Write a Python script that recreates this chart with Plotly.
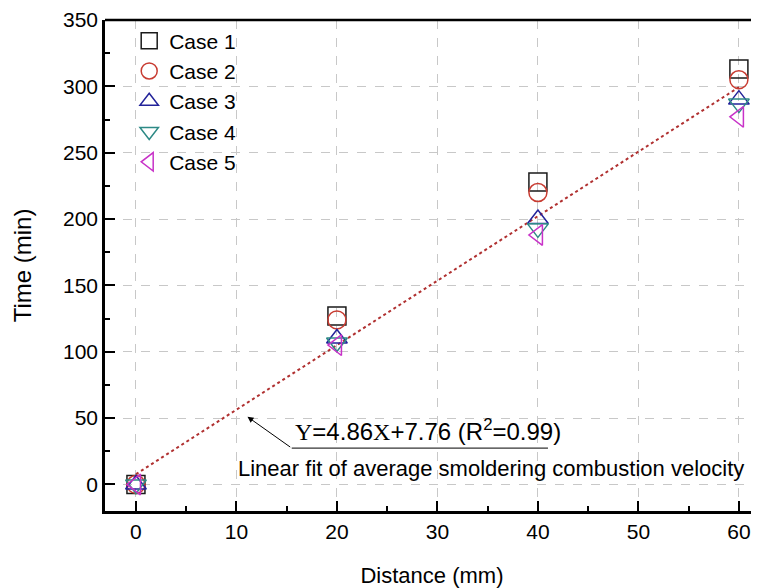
import plotly.graph_objects as go

distance = [0, 20, 40, 60]
case1 = [0, 127, 228, 313]
case2 = [0, 124, 220, 305]
case3 = [0, 110, 200, 290]
case4 = [0, 107, 193, 287]
case5 = [0, 105, 188, 277]
case_names = ["Case 1", "Case 2", "Case 3", "Case 4", "Case 5"]
symbols = ["square-open", "circle-open", "triangle-up-open", "triangle-down-open", "triangle-left-open"]
colors = ["#1a1a1a", "#C83C32", "#23239A", "#2E8A86", "#C832C8"]

fit_slope = 4.86
fit_intercept = 7.76
fit_x = [0, 60]
fit_y = [fit_slope * v + fit_intercept for v in fit_x]

FONT = "Liberation Sans, Arial, sans-serif"
SERIF = "'Liberation Serif', 'Times New Roman', serif"

fig = go.Figure()
fig.add_trace(go.Scatter(x=fit_x, y=fit_y, mode="lines",
                         line=dict(color="#B03030", width=2, dash="dot"),
                         showlegend=False, hoverinfo="skip"))
for i, (name, ys) in enumerate(zip(case_names, [case1, case2, case3, case4, case5])):
    fig.add_trace(go.Scatter(x=distance, y=ys, mode="markers", name=name,
                             marker=dict(symbol=symbols[i], size=18, color=colors[i],
                                         line=dict(width=1.5, color=colors[i]))))

axis_common = dict(
    showline=True, linecolor="black", linewidth=2.5,
    ticks="inside", ticklen=10, tickwidth=2, tickcolor="black",
    showgrid=True, gridcolor="#c8c8c8", gridwidth=1, griddash="dash",
    zeroline=False, tickfont=dict(family=FONT, size=21, color="black"),
    automargin=False,
)

fig.update_xaxes(range=[-3.08, 62.0], tick0=0, dtick=10,
                 minor=dict(ticks="inside", ticklen=5, tickwidth=2, tickcolor="black", dtick=5, tick0=0, showgrid=False),
                 title=dict(text="Distance (mm)", font=dict(family=FONT, size=22, color="black"), standoff=26),
                 **axis_common)
fig.update_yaxes(range=[-20, 350], tick0=0, dtick=50,
                 minor=dict(ticks="inside", ticklen=5, tickwidth=2, tickcolor="black", dtick=25, tick0=0, showgrid=False),
                 title=dict(text="Time (min)", font=dict(family=FONT, size=24, color="black"), standoff=25),
                 **axis_common)

# top border line
fig.add_shape(type="line", xref="paper", yref="paper", x0=0, x1=1, y0=1, y1=1,
              line=dict(color="black", width=2.5))

# equation annotation with arrow
fig.add_annotation(x=11.1, y=51, ax=15.5, ay=27.4, axref="x", ayref="y", xref="x", yref="y",
                   text="", showarrow=True, arrowhead=2, arrowsize=1.2, arrowwidth=1, arrowcolor="black")
fig.add_shape(type="line", xref="x", yref="y", x0=15.5, x1=41.0, y0=27.4, y1=27.4,
              line=dict(color="black", width=1))
fig.add_annotation(x=15.6, y=41, xref="x", yref="y", xanchor="left", yanchor="middle",
                   showarrow=False,
                   text=f"<span style=\"font-family:{SERIF}\">Y</span>=4.86"
                        f"<span style=\"font-family:{SERIF}\">X</span>"
                        "+7.76 (R<sup>2</sup>=0.99)",
                   font=dict(family=FONT, size=24, color="black"))
fig.add_annotation(x=35.3, y=12.4, xref="x", yref="y", xanchor="center", yanchor="middle",
                   showarrow=False, text="Linear fit of average smoldering combustion velocity",
                   font=dict(family=FONT, size=22, color="black"))

fig.update_layout(
    width=751, height=580,
    margin=dict(l=97, r=0, t=12, b=77),
    paper_bgcolor="white", plot_bgcolor="white",
    font=dict(family=FONT, color="black"),
    showlegend=True,
    legend=dict(x=0.037, y=0.999, xanchor="left", yanchor="top",
                bgcolor="rgba(0,0,0,0)", font=dict(family=FONT, size=21, color="black"),
                itemsizing="trace"),
)

fig.write_html("out.html")
